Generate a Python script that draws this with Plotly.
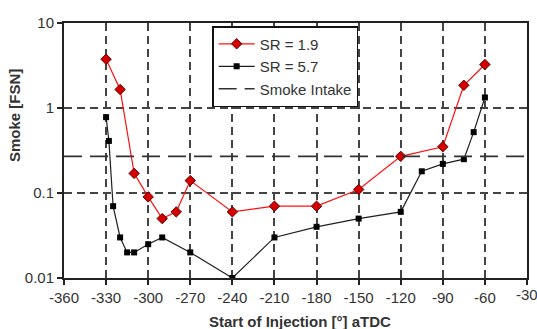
import plotly.graph_objects as go

sr19_x = [-330, -320, -310, -300, -290, -280, -270, -240, -210, -180, -150, -120, -90, -75, -60]
sr19_y = [3.75, 1.65, 0.17, 0.09, 0.05, 0.06, 0.14, 0.06, 0.07, 0.07, 0.11, 0.27, 0.35, 1.85, 3.25]

sr57_x = [-330, -328, -325, -320, -315, -310, -300, -290, -270, -240, -210, -180, -150, -120, -105, -90, -75, -68, -60]
sr57_y = [0.78, 0.41, 0.07, 0.03, 0.02, 0.02, 0.025, 0.03, 0.02, 0.01, 0.03, 0.04, 0.05, 0.06, 0.18, 0.22, 0.25, 0.52, 1.33]

smoke_intake = 0.27
x_range = [-360, -30]
x_ticks = list(range(-360, -29, 30))
x_labels = [str(v) for v in x_ticks]
y_ticks = [0.01, 0.1, 1, 10]
y_labels = ["0.01", "0.1", "1", "10"]

FONT = "Liberation Sans, Arial, sans-serif"
TXT = "#333333"

fig = go.Figure()
fig.add_trace(go.Scatter(
    x=sr19_x, y=sr19_y, mode="lines+markers", name="SR = 1.9",
    line=dict(color="#ff1010", width=1.2),
    marker=dict(symbol="diamond", size=8, color="#d40000", line=dict(color="#600000", width=1)),
))
fig.add_trace(go.Scatter(
    x=sr57_x, y=sr57_y, mode="lines+markers", name="SR = 5.7",
    line=dict(color="#202020", width=1.2),
    marker=dict(symbol="square", size=6, color="black"),
))
fig.add_trace(go.Scatter(
    x=x_range, y=[smoke_intake, smoke_intake], mode="lines", name="Smoke Intake",
    line=dict(color="#333333", width=1.6, dash="18px,8px"),
))

# last tick label overflows the paper edge; Plotly drops it, so place it as an annotation
annotations = [
    dict(text=x_labels[-1], x=x_ticks[-1], xref="x", yref="paper", y=-0.024,
         xanchor="center", yanchor="top", showarrow=False,
         font=dict(family=FONT, size=15, color=TXT)),
    dict(text="<b>Start of Injection [°] aTDC</b>", xref="paper", yref="paper",
         x=0.51, y=-0.1725, xanchor="center", yanchor="middle", showarrow=False,
         font=dict(family=FONT, size=15, color=TXT)),
    dict(text="<b>Smoke [FSN]</b>", xref="paper", yref="paper",
         x=-0.108, y=0.639, xanchor="center", yanchor="middle", showarrow=False,
         textangle=-90, font=dict(family=FONT, size=15, color=TXT)),
]

fig.update_layout(
    width=537, height=329,
    margin=dict(l=64, r=10, t=23, b=51),
    paper_bgcolor="white", plot_bgcolor="white",
    font=dict(family=FONT, size=14, color=TXT),
    showlegend=True,
    legend=dict(
        x=0.32, y=0.988, xanchor="left", yanchor="top",
        bgcolor="white", bordercolor="#111111", borderwidth=1.5,
        font=dict(family=FONT, size=15, color=TXT),
        tracegroupgap=0, itemwidth=36,
    ),
    xaxis=dict(
        range=x_range, tickvals=x_ticks, ticktext=x_labels, ticks="outside", ticklen=5, tickwidth=1.5,
        tickcolor="#222222", automargin=False,
        showline=True, linecolor="#222222", linewidth=2, mirror=True,
        showgrid=True, gridcolor="#444444", gridwidth=1.5, griddash="8px,5px",
        zeroline=False,
        tickfont=dict(size=15, color=TXT),
    ),
    yaxis=dict(
        type="log", range=[-2, 1], tickvals=y_ticks, ticktext=y_labels,
        ticks="outside", ticklen=5, tickwidth=1.5, tickcolor="#222222", automargin=False,
        showline=True, linecolor="#222222", linewidth=2, mirror=True,
        showgrid=True, gridcolor="#444444", gridwidth=1.5, griddash="8px,5px",
        zeroline=False,
        tickfont=dict(size=15, color=TXT),
    ),
    annotations=annotations,
)

fig.write_html("out.html", config={"displayModeBar": False},
               post_script="document.body.style.margin='0';")
